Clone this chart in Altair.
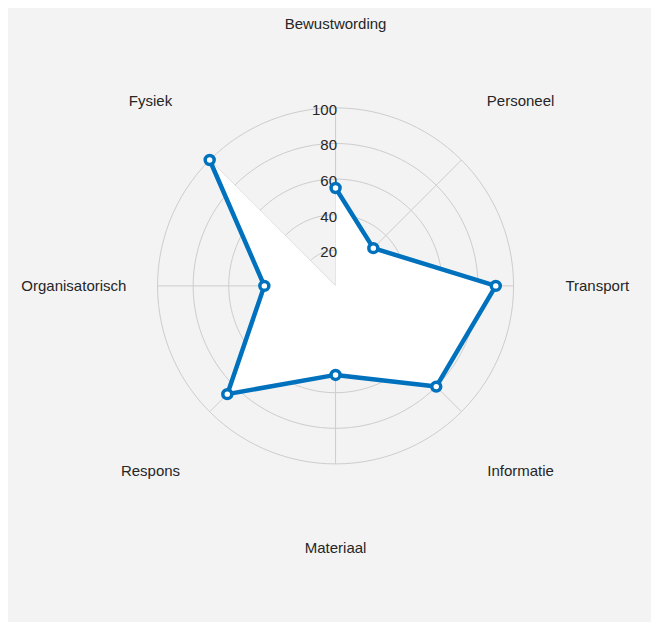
import altair as alt
import pandas as pd
import numpy as np

# ---- data ----
categories = ["Bewustwording", "Personeel", "Transport", "Informatie",
              "Materiaal", "Respons", "Organisatorisch", "Fysiek"]
values = [55, 30, 90, 80, 50, 86, 40, 100]
ring_values = [20, 40, 60, 80, 100]
tick_labels = ["20", "40", "60", "80", "100"]

N = len(categories)
BLUE = "#0072BD"
GRID = "#cdcdcd"
FONT = "Liberation Sans"
FS = 15
LABEL_R = 147

pts = pd.DataFrame({"cat": categories, "value": values, "idx": list(range(N))})

poly = pd.DataFrame({
    "value": [0] + values + [0],
    "idx": [0] + list(range(N)) + [N - 1],
    "ord": list(range(N + 2)),
})

degs = list(range(0, 361, 3))
rings = pd.DataFrame([(r, d) for r in ring_values for d in degs], columns=["r", "deg"])
spokes = pd.DataFrame([(i, rr) for i in range(N) for rr in (0, 100)], columns=["idx", "r"])
ticks = pd.DataFrame({"r": ring_values, "label": tick_labels})
labels = pd.DataFrame({"cat": categories, "idx": list(range(N))})

xs = alt.Scale(domain=[-184, 177.2], nice=False, zero=False)
ys = alt.Scale(domain=[-188.8, 156.1], nice=False, zero=False)

def polar(chart, rfield, angle_expr):
    return chart.transform_calculate(
        ang=angle_expr
    ).transform_calculate(
        px=f"datum.{rfield} * sin(datum.ang)",
        py=f"datum.{rfield} * cos(datum.ang)",
    )

ANG_IDX = f"datum.idx * 2 * PI / {N}"

ring_layer = polar(alt.Chart(rings), "r", "datum.deg * PI / 180").mark_line(
    color=GRID, strokeWidth=1
).encode(
    x=alt.X("px:Q", scale=xs, axis=None),
    y=alt.Y("py:Q", scale=ys, axis=None),
    detail="r:N",
    order="deg:Q",
)

spoke_layer = polar(alt.Chart(spokes), "r", ANG_IDX).mark_line(
    color=GRID, strokeWidth=1
).encode(
    x=alt.X("px:Q", scale=xs, axis=None),
    y=alt.Y("py:Q", scale=ys, axis=None),
    detail="idx:N",
    order="r:Q",
)

fill_layer = polar(alt.Chart(poly), "value", ANG_IDX).mark_line(
    fill="white", fillOpacity=1, strokeWidth=0, stroke="white"
).encode(
    x=alt.X("px:Q", scale=xs, axis=None),
    y=alt.Y("py:Q", scale=ys, axis=None),
    order="ord:Q",
)

tick_layer = alt.Chart(ticks).mark_text(
    align="right", baseline="middle", dy=2, fontSize=FS, font=FONT, color="#262626"
).encode(
    x=alt.X("x0:Q", scale=xs, axis=None),
    y=alt.Y("r:Q", scale=ys, axis=None),
    text="label:N",
).transform_calculate(x0="0.8")

line_layer = polar(alt.Chart(pts), "value", ANG_IDX).mark_line(
    color=BLUE, strokeWidth=4.5, strokeJoin="round"
).encode(
    x=alt.X("px:Q", scale=xs, axis=None),
    y=alt.Y("py:Q", scale=ys, axis=None),
    order="idx:Q",
)

point_layer = polar(alt.Chart(pts), "value", ANG_IDX).mark_point(
    shape="circle", fill="white", fillOpacity=1, stroke=BLUE,
    strokeWidth=3.5, size=80, opacity=1
).encode(
    x=alt.X("px:Q", scale=xs, axis=None),
    y=alt.Y("py:Q", scale=ys, axis=None),
)

label_layer = polar(alt.Chart(labels).transform_calculate(lr=str(LABEL_R)), "lr", ANG_IDX).mark_text(
    align="center", baseline="middle", fontSize=FS, font=FONT, color="#262626"
).encode(
    x=alt.X("px:Q", scale=xs, axis=None),
    y=alt.Y("py:Q", scale=ys, axis=None),
    text="cat:N",
)

chart = alt.layer(
    ring_layer, spoke_layer, fill_layer, tick_layer, line_layer, point_layer, label_layer
).properties(
    width=643, height=614,
    autosize=alt.AutoSizeParams(type="fit", contains="padding"),
    padding=0,
    background="#f3f3f3",
).configure_view(stroke=None)

chart.save("out.html", embed_options={"renderer": "svg", "actions": False})
